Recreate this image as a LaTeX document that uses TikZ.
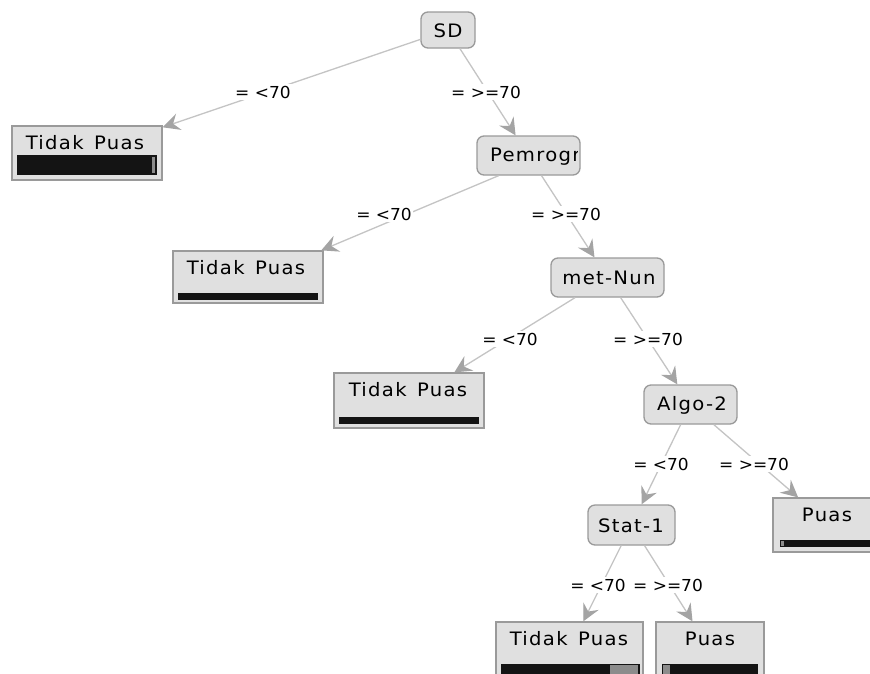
\documentclass[tikz,border=0pt]{standalone}
\usepackage{fontspec}
\setmainfont{DejaVu Sans}
\newfontfamily\nodefont[LetterSpace=7,FakeStretch=1.06,WordSpace=1.4]{DejaVu Sans}
\newfontfamily\edgefont[FakeStretch=1.03]{DejaVu Sans}
\usetikzlibrary{arrows.meta}
\definecolor{boxfill}{HTML}{E0E0E0}
\definecolor{boxline}{HTML}{9A9A9A}
\definecolor{edgeline}{HTML}{C4C4C4}
\definecolor{arrowcol}{HTML}{A4A4A4}
\definecolor{bardark}{HTML}{141414}
\definecolor{barlight}{HTML}{8C8C8C}
\begin{document}
\begin{tikzpicture}[x=1pt,y=-1pt,
  inner/.style={draw=boxline, fill=boxfill, rounded corners=7pt, line width=1.3pt, inner sep=0pt},
  leaf/.style={draw=boxline, fill=boxfill, line width=1.3pt, inner sep=0pt},
  lbl/.style={font=\nodefont\fontsize{18.5}{20}\selectfont, inner sep=0pt},
  elbl/.style={fill=white, font=\edgefont\fontsize{16.5}{18}\selectfont, inner sep=1.5pt},
  edge/.style={draw=edgeline, line width=1.3pt, -{Stealth[length=17pt,width=17pt,inset=6pt,fill=arrowcol,color=arrowcol]}},
]
\clip (0,0) rectangle (870,673);
\fill[white] (0,0) rectangle (870,673);

% inner nodes
\node[inner, minimum width=54pt, minimum height=36pt] (sd) at (448,30) {};
\node[inner, minimum width=103pt, minimum height=39pt] (pem) at (528.5,155.5) {};
\node[inner, minimum width=113pt, minimum height=39pt] (met) at (607.5,277.5) {};
\node[inner, minimum width=93pt, minimum height=39pt] (algo) at (690.5,404.5) {};
\node[inner, minimum width=87pt, minimum height=40pt] (stat) at (631.5,525) {};

% leaves
\node[leaf, minimum width=150pt, minimum height=54pt] (tp1) at (87,153) {};
\node[leaf, minimum width=150pt, minimum height=52pt] (tp2) at (248,277) {};
\node[leaf, minimum width=150pt, minimum height=55pt] (tp3) at (409,400.5) {};
\node[leaf, minimum width=150pt, minimum height=54pt] (puasr) at (848,525) {};
\node[leaf, minimum width=147pt, minimum height=54pt] (tpb) at (569.5,649) {};
\node[leaf, minimum width=108pt, minimum height=54pt] (pb) at (710,649) {};

% bars
\fill[bardark] (17,155) rectangle (157,175);
\fill[barlight] (152,157) rectangle (155,173);
\fill[bardark] (178,293) rectangle (318,300);
\fill[bardark] (339,417) rectangle (479,424);
\fill[bardark] (780,540) rectangle (880,547);
\fill[barlight] (781,541) rectangle (784,546);
\fill[bardark] (501,664) rectangle (640,676);
\fill[barlight] (610,665) rectangle (638,676);
\fill[bardark] (662,664) rectangle (758,676);
\fill[barlight] (663,665) rectangle (670,676);

% node texts
\node[lbl] (sdt) at (448,31) {SD};
\begin{scope}
  \clip (479,138) rectangle (577,173);
  \node[lbl, anchor=west] (pemt) at (490,157) {Pemrograman};
\end{scope}
\node[lbl] (mett) at (609,278) {met-Nun};
\node[lbl] (algot) at (692,405) {Algo-2};
\node[lbl] (statt) at (631,526) {Stat-1};
\node[lbl] (tp1t) at (85,143) {Tidak Puas};
\node[lbl] (tp2t) at (246,268) {Tidak Puas};
\node[lbl] (tp3t) at (408,390) {Tidak Puas};
\node[lbl] (puasrt) at (827,515) {Puas};
\node[lbl] (tpbt) at (569,639) {Tidak Puas};
\node[lbl] (pbt) at (710,639) {Puas};

% edges
\draw[edge] (sd) -- (tp1);
\draw[edge] (sd) -- (pem);
\draw[edge] (pem.214) -- (tp2.20);
\draw[edge] (pem) -- (met);
\draw[edge] (met) -- (tp3);
\draw[edge] (met) -- (algo);
\draw[edge] (algo) -- (stat);
\draw[edge] (algo) -- (puasr.151);
\draw[edge] (stat) -- (tpb);
\draw[edge] (stat) -- (pb);

% edge labels
\node[elbl] (l1) at (263,92) {= <70};
\node[elbl] (l2) at (486,92) {= >=70};
\node[elbl] (l3) at (384,214) {= <70};
\node[elbl] (l4) at (566,214) {= >=70};
\node[elbl] (l5) at (510,339) {= <70};
\node[elbl] (l6) at (648,339) {= >=70};
\node[elbl] (l7) at (661,464) {= <70};
\node[elbl] (l8) at (754,464) {= >=70};
\node[elbl] (l9) at (598,585) {= <70};
\node[elbl] (l10) at (668,585) {= >=70};
\end{tikzpicture}
\end{document}
